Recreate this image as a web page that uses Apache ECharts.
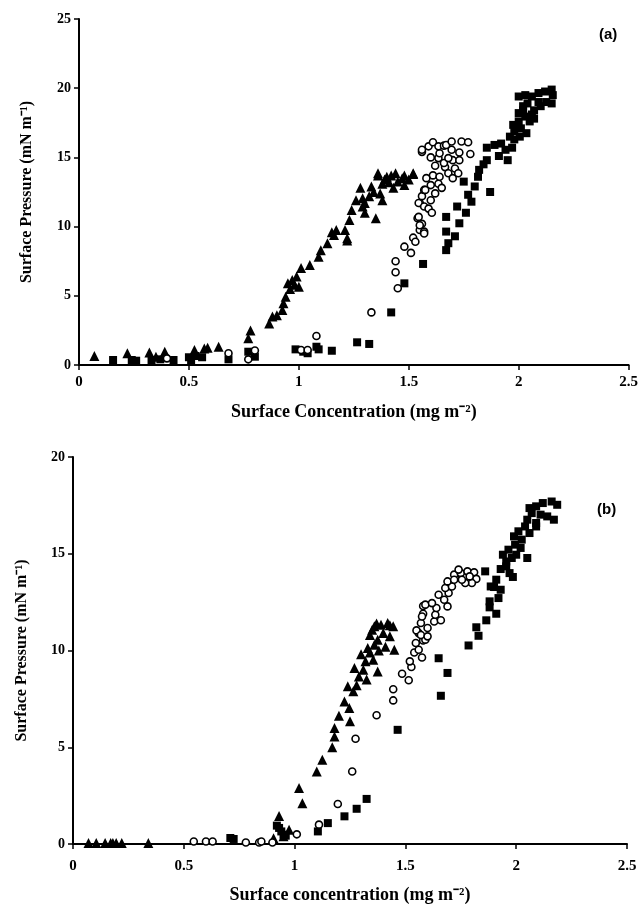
<!DOCTYPE html>
<html>
<head>
<meta charset="utf-8">
<script src="https://cdn.jsdelivr.net/npm/echarts@6/dist/echarts.min.js"></script>
<style>
html,body{margin:0;padding:0;background:#fff;}
#chart{width:641px;height:905px;}
</style>
</head>
<body>
<div id="chart"></div>
<script>
// ---------- Data (x: surface concentration mg m^-2, y: surface pressure mN m^-1) ----------
var xTicks = ['0', '0.5', '1', '1.5', '2', '2.5'];

// Panel (a)
var triA = [[0.07,0.65],[0.22,0.85],[0.32,0.9],[0.35,0.6],[0.39,0.96],[0.525,1.08],[0.57,1.2],[0.585,1.25],[0.635,1.32],
  [0.77,1.93],[0.78,2.5],[0.865,3.0],[0.88,3.5],[0.9,3.6],[0.925,3.98],[0.93,4.46],[0.94,4.94],[0.95,5.9],[0.96,5.5],
  [0.97,6.15],[0.98,5.8],[0.99,6.4],[1.0,5.66],[1.01,7.0],[1.05,7.23],[1.09,7.83],[1.1,8.3],[1.13,8.8],[1.15,9.6],
  [1.16,9.4],[1.17,9.76],[1.21,9.76],[1.22,9.16],[1.22,9.0],[1.23,10.48],[1.24,11.2],[1.26,11.9],[1.28,12.8],[1.29,11.45],
  [1.29,12.05],[1.3,11.7],[1.3,11.0],[1.32,12.2],[1.33,12.9],[1.34,12.5],[1.35,10.6],[1.36,13.7],[1.36,13.86],[1.37,12.4],
  [1.38,13.1],[1.38,11.9],[1.39,13.4],[1.4,13.6],[1.41,13.2],[1.42,13.7],[1.43,12.8],[1.44,13.86],[1.45,13.25],[1.47,13.5],
  [1.48,13.0],[1.48,13.7],[1.5,13.4],[1.52,13.8],[1.52,13.86]];
var circA = [[0.4,0.48],[0.68,0.85],[0.77,0.41],[0.8,1.05],[1.01,1.08],[1.04,1.08],[1.08,2.1],[1.33,3.8],[1.44,7.5],[1.44,6.7],
  [1.45,5.55],[1.48,8.55],[1.51,8.1],[1.52,9.2],[1.53,8.9],[1.54,10.6],[1.55,9.76],[1.57,9.64],[1.56,10.2],[1.55,10.1],
  [1.545,10.7],[1.57,9.5],[1.55,11.7],[1.56,12.2],[1.57,12.65],[1.545,11.7],[1.57,11.45],[1.59,11.3],[1.605,11.0],[1.6,11.9],
  [1.575,12.65],[1.6,13.0],[1.61,13.7],[1.62,12.4],[1.635,13.1],[1.64,13.6],[1.65,12.8],[1.58,13.5],[1.665,14.3],[1.62,14.4],
  [1.68,13.86],[1.7,13.5],[1.71,14.2],[1.725,13.86],[1.66,14.6],[1.7,14.8],[1.6,15.0],[1.635,14.95],[1.64,15.3],[1.68,14.95],
  [1.695,15.55],[1.73,15.35],[1.73,14.8],[1.78,15.25],[1.56,15.4],[1.56,15.55],[1.59,15.8],[1.61,16.1],[1.635,15.8],
  [1.66,15.85],[1.67,15.9],[1.695,16.15],[1.74,16.15],[1.77,16.1]];
var squA = [[0.155,0.36],[0.24,0.36],[0.26,0.31],[0.33,0.36],[0.37,0.41],[0.43,0.36],[0.5,0.56],[0.51,0.31],[0.53,0.65],
  [0.56,0.56],[0.68,0.41],[0.77,0.96],[0.8,0.6],[0.985,1.13],[1.02,0.96],[1.04,0.85],[1.08,1.32],[1.09,1.13],[1.15,1.03],
  [1.265,1.64],[1.32,1.52],[1.42,3.8],[1.48,5.9],[1.565,7.3],[1.67,8.3],[1.68,8.8],[1.71,9.3],[1.67,9.64],[1.73,10.24],
  [1.67,10.7],[1.76,11.0],[1.72,11.45],[1.785,11.8],[1.77,12.3],[1.8,12.9],[1.75,13.25],[1.87,12.5],[1.815,13.6],[1.82,14.1],
  [1.84,14.5],[1.855,14.8],[1.855,15.7],[1.89,15.9],[1.92,16.0],[1.91,15.1],[1.95,14.8],[1.94,15.55],[1.97,15.7],[1.96,16.5],
  [1.98,16.3],[2.005,16.5],[1.98,16.9],[1.975,17.35],[2.0,17.6],[2.01,17.1],[2.035,16.75],[2.03,17.95],[2.02,18.4],[2.0,18.2],
  [2.02,18.7],[2.04,18.9],[2.0,19.4],[2.03,19.5],[2.06,19.4],[2.09,19.65],[2.12,19.76],[2.15,19.9],[2.155,19.5],[2.15,18.9],
  [2.125,19.0],[2.1,18.7],[2.09,19.0],[2.07,18.4],[2.06,18.1],[2.07,17.8],[2.05,17.6]];

// Panel (b)
var triB = [[0.07,0.05],[0.105,0.05],[0.145,0.05],[0.17,0.05],[0.18,0.05],[0.195,0.05],[0.22,0.05],[0.34,0.05],[0.905,0.3],
  [0.93,1.45],[0.95,0.4],[0.975,0.74],[1.02,2.9],[1.035,2.1],[1.1,3.75],[1.125,4.36],[1.17,5.0],[1.18,5.56],[1.18,6.0],
  [1.2,6.63],[1.225,7.37],[1.247,7.03],[1.25,6.34],[1.24,8.15],[1.265,7.89],[1.28,8.2],[1.27,9.1],[1.29,8.66],[1.31,9.0],
  [1.3,9.8],[1.325,8.5],[1.32,9.44],[1.33,10.13],[1.34,9.9],[1.34,10.8],[1.35,11.07],[1.355,9.52],[1.36,11.25],[1.36,10.3],
  [1.375,10.56],[1.375,8.92],[1.37,11.4],[1.38,10.0],[1.39,11.33],[1.4,10.9],[1.41,10.2],[1.42,11.42],[1.43,10.73],
  [1.43,11.3],[1.445,11.25],[1.45,10.04]];
var circB = [[0.545,0.13],[0.6,0.13],[0.63,0.13],[0.78,0.08],[0.84,0.08],[0.85,0.13],[0.9,0.08],[1.01,0.5],[1.11,1.0],
  [1.195,2.07],[1.26,3.75],[1.275,5.44],[1.37,6.65],[1.445,7.42],[1.445,8.0],[1.485,8.8],[1.515,8.46],[1.527,9.15],[1.52,9.44],
  [1.575,9.64],[1.54,9.9],[1.56,10.04],[1.547,10.39],[1.58,10.52],[1.56,10.9],[1.55,11.04],[1.57,11.42],[1.58,11.9],[1.58,12.3],
  [1.6,11.16],[1.59,10.56],[1.57,10.8],[1.6,10.73],[1.63,11.5],[1.66,11.56],[1.575,11.76],[1.635,11.85],[1.64,12.2],[1.59,12.37],
  [1.62,12.45],[1.69,12.28],[1.675,12.62],[1.65,12.88],[1.695,12.97],[1.68,13.23],[1.71,13.31],[1.69,13.57],[1.725,13.75],
  [1.72,13.92],[1.75,14.0],[1.78,14.09],[1.81,14.04],[1.82,13.7],[1.8,13.49],[1.77,13.49],[1.79,13.83],[1.755,13.66],
  [1.74,14.18],[1.72,13.66]];
var squB = [[0.71,0.31],[0.725,0.26],[0.92,0.95],[0.93,0.83],[0.94,0.65],[0.95,0.48],[0.96,0.43],[1.105,0.65],[1.15,1.08],
  [1.225,1.43],[1.28,1.82],[1.325,2.33],[1.465,5.9],[1.65,9.6],[1.66,7.66],[1.69,8.84],[1.785,10.26],[1.83,10.76],[1.82,11.2],
  [1.865,11.56],[1.91,11.9],[1.88,12.23],[1.88,12.54],[1.92,12.71],[1.93,13.14],[1.9,13.28],[1.885,13.31],[1.91,13.66],
  [1.86,14.09],[1.93,14.21],[1.97,14.0],[1.985,13.8],[1.955,14.35],[1.955,14.6],[1.94,14.95],[1.98,14.78],[2.0,14.95],
  [2.05,14.78],[1.965,15.21],[2.02,15.3],[1.995,15.47],[1.99,15.9],[2.025,15.73],[2.01,16.16],[2.06,16.07],[2.04,16.41],
  [2.09,16.41],[2.09,16.59],[2.05,16.76],[2.07,17.1],[2.06,17.36],[2.09,17.45],[2.11,17.02],[2.14,16.93],[2.17,16.76],
  [2.12,17.62],[2.16,17.7],[2.185,17.53]];

// ---------- Chart ----------
var serif = 'Liberation Serif';
var chart = echarts.init(document.getElementById('chart'), null, {renderer: 'canvas'});

function xAxisDef(idx, name, labelMargin, nameGap) {
  return {
    type: 'value', gridIndex: idx, min: 0, max: 2.5, interval: 0.5,
    name: name, nameLocation: 'middle', nameGap: nameGap,
    nameTextStyle: {fontFamily: serif, fontWeight: 'bold', fontSize: 18, color: '#000'},
    axisLine: {show: true, onZero: false, lineStyle: {color: '#000', width: 2}},
    axisTick: {show: true, inside: false, length: 5, lineStyle: {color: '#000', width: 1.5}},
    axisLabel: {fontFamily: serif, fontWeight: 'bold', fontSize: 15, color: '#000', margin: labelMargin,
      formatter: function (v) { return xTicks[Math.round(v / 0.5)]; }},
    splitLine: {show: false}
  };
}
function yAxisDef(idx, max, nameGap) {
  return {
    type: 'value', gridIndex: idx, min: 0, max: max, interval: 5,
    name: 'Surface Pressure (mN m\u207B\u00B9)', nameLocation: 'middle', nameGap: nameGap, nameRotate: 90,
    nameTextStyle: {fontFamily: serif, fontWeight: 'bold', fontSize: 16, color: '#000'},
    axisLine: {show: true, onZero: false, lineStyle: {color: '#000', width: 2}},
    axisTick: {show: true, inside: false, length: 5, lineStyle: {color: '#000', width: 1.5}},
    axisLabel: {fontFamily: serif, fontWeight: 'bold', fontSize: 14, color: '#000', margin: 8},
    splitLine: {show: false}
  };
}
function tri(data, idx) {
  return {type: 'scatter', xAxisIndex: idx, yAxisIndex: idx, data: data, symbol: 'triangle', symbolSize: 10,
    itemStyle: {color: '#000', opacity: 1}, silent: true, animation: false};
}
function sq(data, idx) {
  return {type: 'scatter', xAxisIndex: idx, yAxisIndex: idx, data: data, symbol: 'rect', symbolSize: 8,
    itemStyle: {color: '#000', opacity: 1}, silent: true, animation: false};
}
function circ(data, idx) {
  return {type: 'scatter', xAxisIndex: idx, yAxisIndex: idx, data: data, symbol: 'circle', symbolSize: 7,
    itemStyle: {color: '#fff', borderColor: '#000', borderWidth: 1.6, opacity: 1}, silent: true, animation: false};
}

chart.setOption({
  animation: false,
  backgroundColor: '#fff',
  grid: [
    {left: 79, right: 11, top: 19, bottom: 540},
    {left: 73, right: 14, top: 457, bottom: 61}
  ],
  xAxis: [
    xAxisDef(0, 'Surface Concentration (mg m\u207B\u00B2)', 10, 38),
    xAxisDef(1, 'Surface concentration (mg m\u207B\u00B2)', 15, 42)
  ],
  yAxis: [yAxisDef(0, 25, 44), yAxisDef(1, 20, 43)],
  graphic: [
    {type: 'text', left: 599, top: 27, style: {text: '(a)', font: 'bold 15px "Liberation Sans"', fill: '#000'}},
    {type: 'text', left: 597, top: 502, style: {text: '(b)', font: 'bold 15px "Liberation Sans"', fill: '#000'}}
  ],
  series: [
    tri(triA, 0), sq(squA, 0), circ(circA, 0),
    tri(triB, 1), sq(squB, 1), circ(circB, 1)
  ]
});
</script>
</body>
</html>
